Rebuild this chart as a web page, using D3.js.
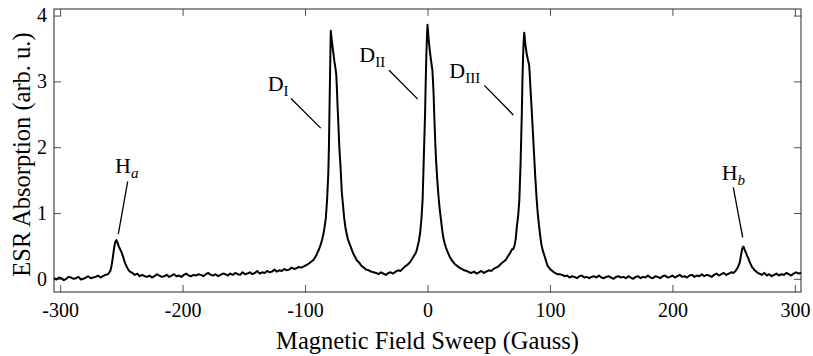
<!DOCTYPE html>
<html>
<head>
<meta charset="utf-8">
<script src="https://cdn.jsdelivr.net/npm/d3@7"></script>
<style>
  body { margin: 0; background: #fff; }
  svg { display: block; font-family: "Liberation Serif", "Times New Roman", serif; }
  .tick text { font-family: "Liberation Serif", "Times New Roman", serif; }
</style>
</head>
<body>
<svg id="canvas" width="813" height="356"></svg>
<script>
const settings = {
  width: 813,
  height: 356,
  padding: { left: 54, top: 9, right: 12, bottom: 64 },
  tickLen: 7,
};

// tick values
const xTicks = [-300, -200, -100, 0, 100, 200, 300];
const yTicks = [0, 1, 2, 3, 4];

// sweep field (Gauss) and absorption (arb. u.)
const field = [
  -305, -303, -301, -299, -297, -295, -293, -291, -289, -287, -285, -283, -281, -279, -277, -275, -273, -271, -269, -267, -265, -263, -261,
  -259, -258, -257, -256, -255, -254, -253, -252, -251, -250, -249, -248, -247, -246, -245, -244, -243, -241, -239, -237, -235,
  -233, -231, -229, -227, -225, -223, -221, -219, -217, -215, -213, -211, -209, -207, -205, -203, -201, -199, -197, -195, -193, -191,
  -189, -187, -185, -183, -181, -179, -177, -175, -173, -171, -169, -167, -165, -163, -161, -159, -157, -155, -153, -151, -149, -147,
  -145, -143, -141, -139, -137, -135, -133, -131, -129, -127, -125, -123, -121, -119, -117, -115, -113, -111, -109, -107, -105, -103,
  -101, -99, -97, -95, -93,
  -92, -91, -90, -89, -88, -87, -86, -85, -84, -83, -82, -81, -80.5, -80, -79.5, -79, -78, -77, -76, -75, -74.5, -74, -73.5, -73,
  -72, -71, -70, -69, -68, -67, -66, -65, -64, -63, -62, -61, -60, -59, -58, -56, -54, -52, -50, -48, -46,
  -44, -42, -40, -38, -36, -34, -32, -30, -28, -26, -24, -22, -20, -18, -16, -14, -12, -11, -10, -9, -8, -7, -6, -5, -4, -3,
  -2, -1.5, -1, -0.5, 0, 0.5, 1, 2, 3, 4, 4.5, 5, 5.5, 6, 6.5, 7, 8, 9, 10, 11, 12, 13, 14, 15, 16, 18, 20, 22, 24, 26, 28, 30,
  32, 34, 36, 38, 40, 42, 44, 46, 48, 50, 52, 54, 56, 58, 60, 62, 64, 65, 66, 67, 68, 69, 70, 71, 72, 73, 74, 75, 76, 77, 77.5,
  78, 78.5, 79, 80, 81, 82, 83, 83.5, 84, 85, 86, 87, 88, 89, 90, 91, 92, 93, 94, 95, 96, 98, 100, 102, 104, 106, 108,
  110, 112, 114, 116, 118, 120, 122, 124, 126, 128, 130, 132, 134, 136, 138, 140, 142, 144, 146, 148, 150, 152, 154, 156, 158,
  160, 162, 164, 166, 168, 170, 172, 174, 176, 178, 180, 182, 184, 186, 188, 190, 192, 194, 196, 198, 200, 202, 204, 206, 208,
  210, 212, 214, 216, 218, 220, 222, 224, 226, 228, 230, 232, 234, 236, 238, 240, 242, 244, 246, 248, 250, 251, 252, 253, 254,
  255, 256, 257, 258, 259, 260, 261, 262, 263, 264, 265, 266, 267, 268, 269, 271, 273, 275, 277, 279, 281, 283, 285, 287, 289,
  291, 293, 295, 297, 299, 301, 303, 305
];
const absorption = [
  0.01, -0.01, 0.02, 0.01, -0.02, 0.00, 0.03, 0.02, 0.00, 0.01, 0.03, -0.01, 0.00, 0.02, 0.04, 0.01, 0.02, 0.03, 0.05, 0.02, 0.04, 0.06, 0.07,
  0.12, 0.20, 0.32, 0.46, 0.56, 0.59, 0.54, 0.49, 0.45, 0.41, 0.36, 0.30, 0.24, 0.20, 0.16, 0.13, 0.11, 0.09, 0.06, 0.08, 0.04,
  0.06, 0.04, 0.03, 0.05, 0.02, 0.04, 0.07, 0.05, 0.03, 0.04, 0.06, 0.03, 0.05, 0.07, 0.04, 0.05, 0.03, 0.06, 0.08, 0.05, 0.04, 0.06,
  0.05, 0.07, 0.06, 0.04, 0.07, 0.09, 0.06, 0.05, 0.07, 0.04, 0.06, 0.08, 0.07, 0.05, 0.08, 0.06, 0.09, 0.07, 0.06, 0.10, 0.07, 0.08,
  0.10, 0.07, 0.09, 0.12, 0.08, 0.10, 0.09, 0.12, 0.10, 0.11, 0.14, 0.11, 0.13, 0.12, 0.15, 0.13, 0.14, 0.17, 0.15, 0.16, 0.18, 0.17,
  0.19, 0.21, 0.23, 0.26, 0.29,
  0.32, 0.35, 0.39, 0.43, 0.48, 0.53, 0.60, 0.68, 0.79, 0.93, 1.20, 1.60, 2.00, 2.60, 3.20, 3.77, 3.60, 3.45, 3.30, 3.18, 3.10, 2.90, 2.65, 2.45,
  2.00, 1.70, 1.32, 1.12, 0.92, 0.78, 0.68, 0.60, 0.55, 0.50, 0.45, 0.40, 0.36, 0.33, 0.29, 0.25, 0.20, 0.17, 0.14, 0.13, 0.11,
  0.10, 0.09, 0.07, 0.10, 0.08, 0.06, 0.09, 0.10, 0.08, 0.11, 0.13, 0.12, 0.16, 0.19, 0.22, 0.26, 0.32, 0.35, 0.38, 0.42, 0.50, 0.58, 0.70, 0.90, 1.20, 1.85,
  2.50, 2.95, 3.35, 3.65, 3.86, 3.75, 3.62, 3.45, 3.30, 3.17, 3.00, 2.80, 2.50, 2.25, 2.00, 1.80, 1.50, 1.25, 1.05, 0.90, 0.74, 0.62, 0.54, 0.48, 0.43, 0.34, 0.28, 0.23, 0.20, 0.17, 0.15, 0.13,
  0.12, 0.10, 0.09, 0.11, 0.08, 0.10, 0.12, 0.09, 0.11, 0.13, 0.12, 0.15, 0.17, 0.19, 0.23, 0.26, 0.29, 0.32, 0.35, 0.38, 0.41, 0.45, 0.45, 0.50, 0.60, 0.80, 0.95, 1.20, 1.75, 2.50, 3.00,
  3.35, 3.60, 3.74, 3.55, 3.42, 3.33, 3.25, 3.10, 2.92, 2.60, 2.25, 1.90, 1.55, 1.25, 1.00, 0.82, 0.66, 0.52, 0.44, 0.38, 0.32, 0.20, 0.15, 0.12, 0.09, 0.07, 0.07,
  0.06, 0.04, 0.05, 0.02, 0.04, 0.03, 0.01, 0.04, 0.05, 0.02, 0.03, 0.01, 0.03, 0.04, 0.02, 0.05, 0.02, 0.01, 0.03, 0.04, 0.02, 0.00, 0.03, 0.04, 0.02,
  0.03, 0.01, 0.04, 0.02, 0.00, 0.03, 0.04, 0.01, 0.03, 0.02, 0.05, 0.02, 0.01, 0.04, 0.03, 0.01, 0.04, 0.05, 0.02, 0.03, 0.05, 0.02, 0.04, 0.06, 0.03,
  0.04, 0.02, 0.05, 0.06, 0.03, 0.05, 0.04, 0.07, 0.04, 0.06, 0.05, 0.03, 0.06, 0.08, 0.05, 0.07, 0.09, 0.06, 0.08, 0.10, 0.09, 0.11, 0.13, 0.16, 0.20,
  0.25, 0.36, 0.46, 0.49, 0.44, 0.40, 0.35, 0.31, 0.26, 0.22, 0.18, 0.16, 0.13, 0.12, 0.10, 0.08, 0.06, 0.09, 0.05, 0.07, 0.04, 0.06, 0.08, 0.05, 0.07,
  0.06, 0.09, 0.07, 0.05, 0.08, 0.10, 0.08, 0.09
];

// peak labels: main letter, subscript, where the text sits and where the pointer goes (data coords)
const labelMain = ["H", "D", "D", "D", "H"];
const labelSub = ["a", "I", "II", "III", "b"];
const labelItalicSub = [true, false, false, false, true];
const labelAt = [[-255.2, 1.61], [-130.5, 2.85], [-55.7, 3.30], [17.8, 3.05], [240.2, 1.50]];
const pointerFrom = [[-244.8, 1.48], [-111.5, 2.74], [-31.4, 3.17], [46.4, 2.94], [249.7, 1.39]];
const pointerTo = [[-252.5, 0.68], [-87.2, 2.29], [-8.0, 2.73], [70.1, 2.49], [257.4, 0.63]];

function graph() {
  const svg = d3.select('#canvas');
  const p = settings.padding;
  const x0 = p.left, x1 = settings.width - p.right;
  const y0 = settings.height - p.bottom, y1 = p.top;

  const x = d3.scaleLinear().domain([-305, 305]).range([x0, x1]);
  const y = d3.scaleLinear().domain([-0.2, 4.1]).range([y0, y1]);

  const axisColor = "#262626";
  const fmt = d => String(d);   // plain hyphen, no decimals

  const tidy = g => g
    .attr("font-family", null)
    .attr("font-size", null)
    .call(g => g.select(".domain").remove());

  // bottom axis with inward ticks
  svg.append("g")
    .attr("transform", `translate(0,${y0})`)
    .call(d3.axisBottom(x).tickValues(xTicks).tickFormat(fmt).tickSizeInner(-settings.tickLen).tickSizeOuter(0).tickPadding(11))
    .call(tidy);

  svg.append("g")
    .attr("transform", `translate(0,${y1})`)
    .call(d3.axisTop(x).tickValues(xTicks).tickSizeInner(-settings.tickLen).tickSizeOuter(0).tickFormat(""))
    .call(tidy);

  svg.append("g")
    .attr("transform", `translate(${x0},0)`)
    .call(d3.axisLeft(y).tickValues(yTicks).tickFormat(fmt).tickSizeInner(-settings.tickLen).tickSizeOuter(0).tickPadding(7))
    .call(tidy);

  svg.append("g")
    .attr("transform", `translate(${x1},0)`)
    .call(d3.axisRight(y).tickValues(yTicks).tickSizeInner(-settings.tickLen).tickSizeOuter(0).tickFormat(""))
    .call(tidy);

  svg.selectAll(".tick line").attr("stroke", axisColor).attr("stroke-width", 0.8);
  svg.selectAll(".tick text")
    .attr("font-size", 20)
    .attr("fill", "#000");

  // the box
  svg.append("rect")
    .attr("x", x0).attr("y", y1)
    .attr("width", x1 - x0).attr("height", y0 - y1)
    .attr("fill", "none")
    .attr("stroke", axisColor)
    .attr("stroke-width", 1);

  const spectrum = field.map((f, i) => [f, absorption[i]]);
  svg.append("path")
    .datum(spectrum)
    .attr("fill", "none")
    .attr("stroke", "#000")
    .attr("stroke-width", 2)
    .attr("stroke-linejoin", "round")
    .attr("d", d3.line().x(d => x(d[0])).y(d => y(d[1])));

  // peak labels
  const labels = svg.append("g").attr("class", "labels");
  labelMain.forEach((m, i) => {
    labels.append("line")
      .attr("x1", x(pointerFrom[i][0])).attr("y1", y(pointerFrom[i][1]))
      .attr("x2", x(pointerTo[i][0])).attr("y2", y(pointerTo[i][1]))
      .attr("stroke", "#000")
      .attr("stroke-width", 1.3);
    const t = labels.append("text")
      .attr("x", x(labelAt[i][0]))
      .attr("y", y(labelAt[i][1]))
      .attr("font-size", 22);
    t.append("tspan").text(m);
    t.append("tspan")
      .attr("font-size", 15)
      .attr("dy", 5)
      .attr("font-style", labelItalicSub[i] ? "italic" : "normal")
      .text(labelSub[i]);
  });

  svg.append("text")
    .attr("x", (x0 + x1) / 2)
    .attr("y", 349)
    .attr("text-anchor", "middle")
    .attr("font-size", 24.5)
    .text("Magnetic Field Sweep (Gauss)");

  svg.append("text")
    .attr("transform", `translate(30,${(y0 + y1) / 2 + 4}) rotate(-90)`)
    .attr("text-anchor", "middle")
    .attr("font-size", 24.5)
    .text("ESR Absorption (arb. u.)");
}

graph();
</script>
</body>
</html>
